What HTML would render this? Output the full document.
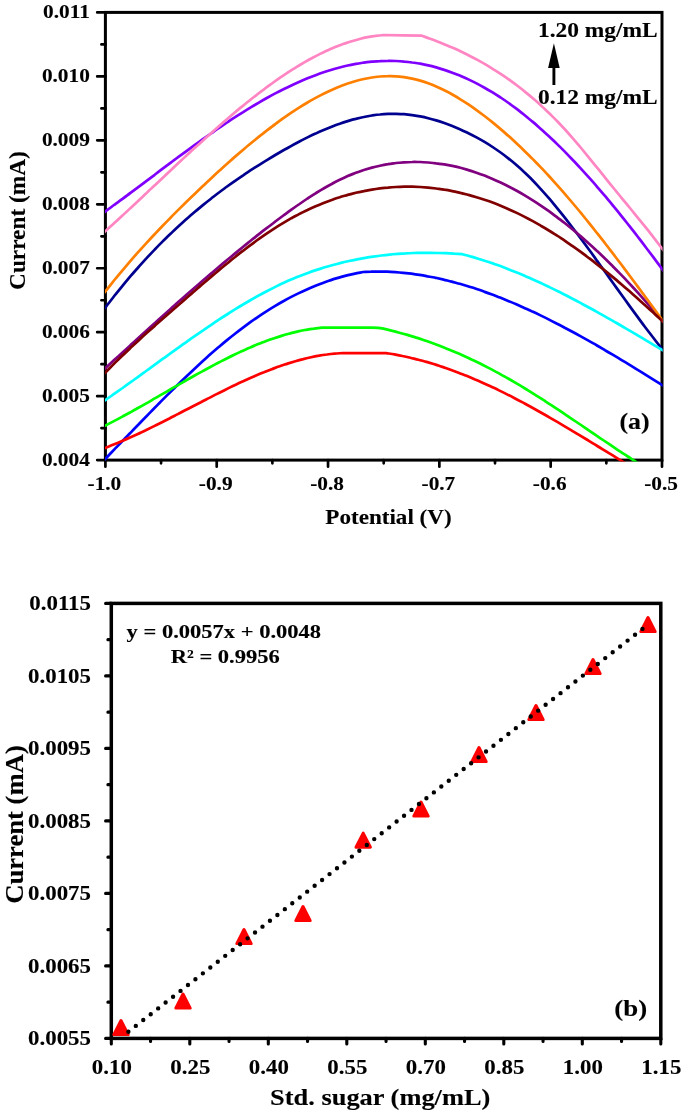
<!DOCTYPE html>
<html lang="en"><head><meta charset="utf-8"><title>Figure</title>
<style>html,body{margin:0;padding:0;background:#fff}body{width:685px;height:1116px;overflow:hidden}svg{display:block}text{font-family:'Liberation Serif',serif;font-weight:bold;fill:#000;stroke:#000;stroke-width:0.12px}</style>
</head><body>
<svg width="685" height="1116" viewBox="0 0 685 1116">
<rect width="685" height="1116" fill="#fff"/>
<g id="chart-a">
<rect x="105.4" y="12.4" width="556.6" height="447.7" fill="none" stroke="#000" stroke-width="3.0"/>
<path d="M105.4 460.10 H97.2 M105.4 428.12 H101.4 M105.4 396.15 H97.2 M105.4 364.18 H101.4 M105.4 332.20 H97.2 M105.4 300.23 H101.4 M105.4 268.25 H97.2 M105.4 236.28 H101.4 M105.4 204.30 H97.2 M105.4 172.33 H101.4 M105.4 140.35 H97.2 M105.4 108.38 H101.4 M105.4 76.40 H97.2 M105.4 44.42 H101.4 M105.4 12.45 H97.2 M105.40 460.1 V466.7 M161.06 460.1 V463.3 M216.72 460.1 V466.7 M272.38 460.1 V463.3 M328.04 460.1 V466.7 M383.70 460.1 V463.3 M439.36 460.1 V466.7 M495.02 460.1 V463.3 M550.68 460.1 V466.7 M606.34 460.1 V463.3 M662.00 460.1 V466.7" stroke="#000" stroke-width="2.7" stroke-linecap="round" fill="none"/>
<clipPath id="ca"><rect x="105.0" y="12.4" width="557.6" height="449.0"/></clipPath>
<g clip-path="url(#ca)" fill="none" stroke-width="2.7" stroke-linejoin="round">
<path d="M103.4 310.1 C103.9 309.4 104.6 308.6 106.4 306.2 C108.2 303.8 111.8 299.2 114.4 295.8 C117.1 292.4 119.8 289.1 122.5 285.8 C125.2 282.6 127.9 279.4 130.5 276.2 C133.2 273.1 135.9 270.0 138.6 267.0 C141.3 264.0 143.9 261.0 146.6 258.1 C149.3 255.2 152.0 252.4 154.7 249.6 C157.4 246.8 160.0 244.1 162.7 241.4 C165.4 238.8 168.1 236.1 170.8 233.6 C173.4 231.0 176.1 228.5 178.8 226.0 C181.5 223.6 184.2 221.1 186.8 218.8 C189.5 216.4 192.2 214.1 194.9 211.8 C197.6 209.5 200.3 207.3 202.9 205.1 C205.6 202.9 208.3 200.8 211.0 198.7 C213.7 196.6 216.3 194.5 219.0 192.5 C221.7 190.4 224.4 188.5 227.1 186.5 C229.8 184.6 232.4 182.7 235.1 180.8 C237.8 178.9 240.5 177.1 243.2 175.3 C245.8 173.4 248.5 171.7 251.2 169.9 C253.9 168.2 256.6 166.5 259.3 164.8 C261.9 163.1 264.6 161.4 267.3 159.8 C270.0 158.2 272.7 156.6 275.3 155.0 C278.0 153.4 280.7 151.8 283.4 150.3 C286.1 148.8 288.8 147.3 291.4 145.8 C294.1 144.3 296.8 142.9 299.5 141.5 C302.2 140.1 304.8 138.7 307.5 137.4 C310.2 136.1 312.9 134.8 315.6 133.6 C318.2 132.3 320.9 131.1 323.6 130.0 C326.3 128.9 329.0 127.8 331.7 126.7 C334.3 125.7 337.0 124.7 339.7 123.8 C342.4 122.8 345.1 121.9 347.7 121.1 C350.4 120.3 353.1 119.5 355.8 118.9 C358.5 118.2 361.2 117.5 363.8 117.0 C366.5 116.4 369.2 115.9 371.9 115.5 C374.6 115.1 377.2 114.7 379.9 114.5 C382.6 114.2 385.3 114.0 388.0 113.9 C390.7 113.8 393.3 113.8 396.0 113.8 C398.7 113.9 401.4 114.0 404.1 114.2 C406.7 114.4 409.4 114.7 412.1 115.1 C414.8 115.5 417.5 115.9 420.2 116.4 C422.8 116.9 425.5 117.5 428.2 118.2 C430.9 118.9 433.6 119.6 436.2 120.4 C438.9 121.2 441.6 122.1 444.3 123.0 C447.0 124.0 449.7 125.0 452.3 126.0 C455.0 127.1 457.7 128.3 460.4 129.4 C463.1 130.6 465.7 131.9 468.4 133.2 C471.1 134.5 473.8 135.9 476.5 137.4 C479.1 138.8 481.8 140.3 484.5 141.9 C487.2 143.5 489.9 145.2 492.6 147.0 C495.2 148.7 497.9 150.6 500.6 152.5 C503.3 154.4 506.0 156.5 508.6 158.6 C511.3 160.7 514.0 162.9 516.7 165.3 C519.4 167.6 522.1 170.0 524.7 172.6 C527.4 175.1 530.1 177.8 532.8 180.5 C535.5 183.3 538.1 186.2 540.8 189.1 C543.5 192.1 546.2 195.1 548.9 198.2 C551.6 201.3 554.2 204.6 556.9 207.8 C559.6 211.1 562.3 214.4 565.0 217.8 C567.6 221.2 570.3 224.7 573.0 228.2 C575.7 231.7 578.4 235.3 581.1 238.9 C583.7 242.5 586.4 246.1 589.1 249.8 C591.8 253.4 594.5 257.1 597.1 260.9 C599.8 264.6 602.5 268.3 605.2 272.0 C607.9 275.8 610.5 279.5 613.2 283.3 C615.9 287.0 618.6 290.8 621.3 294.5 C624.0 298.2 626.6 301.9 629.3 305.6 C632.0 309.3 634.7 313.0 637.4 316.6 C640.0 320.3 642.7 323.9 645.4 327.5 C648.1 331.0 650.8 334.5 653.5 338.0 C656.1 341.5 658.8 344.8 661.5 348.2 C664.2 351.6 668.2 356.7 669.5 358.4" stroke="#000090"/>
<path d="M103.4 369.9 C103.9 369.5 104.6 368.9 106.4 367.2 C108.2 365.5 111.8 362.3 114.4 359.8 C117.1 357.4 119.8 354.9 122.5 352.5 C125.2 350.0 127.9 347.6 130.5 345.1 C133.2 342.7 135.9 340.2 138.6 337.8 C141.3 335.3 143.9 332.9 146.6 330.5 C149.3 328.1 152.0 325.6 154.7 323.2 C157.4 320.8 160.0 318.4 162.7 316.0 C165.4 313.6 168.1 311.2 170.8 308.8 C173.4 306.4 176.1 304.0 178.8 301.6 C181.5 299.3 184.2 296.9 186.8 294.5 C189.5 292.2 192.2 289.8 194.9 287.5 C197.6 285.2 200.3 282.8 202.9 280.5 C205.6 278.2 208.3 275.9 211.0 273.6 C213.7 271.3 216.3 269.0 219.0 266.8 C221.7 264.5 224.4 262.3 227.1 260.0 C229.8 257.8 232.4 255.6 235.1 253.4 C237.8 251.2 240.5 249.0 243.2 246.8 C245.8 244.6 248.5 242.5 251.2 240.3 C253.9 238.2 256.6 236.0 259.3 233.9 C261.9 231.8 264.6 229.7 267.3 227.7 C270.0 225.6 272.7 223.6 275.3 221.5 C278.0 219.5 280.7 217.5 283.4 215.5 C286.1 213.5 288.8 211.6 291.4 209.6 C294.1 207.7 296.8 205.8 299.5 204.0 C302.2 202.1 304.8 200.3 307.5 198.5 C310.2 196.8 312.9 195.0 315.6 193.3 C318.2 191.7 320.9 190.0 323.6 188.5 C326.3 186.9 329.0 185.4 331.7 184.0 C334.3 182.5 337.0 181.1 339.7 179.8 C342.4 178.5 345.1 177.3 347.7 176.1 C350.4 174.9 353.1 173.9 355.8 172.8 C358.5 171.8 361.2 170.9 363.8 170.0 C366.5 169.2 369.2 168.4 371.9 167.6 C374.6 166.9 377.2 166.3 379.9 165.7 C382.6 165.1 385.3 164.6 388.0 164.2 C390.7 163.7 393.3 163.4 396.0 163.0 C398.7 162.7 401.4 162.5 404.1 162.3 C406.7 162.1 409.4 162.0 412.1 162.0 C414.8 161.9 417.5 162.0 420.2 162.0 C422.8 162.1 425.5 162.3 428.2 162.5 C430.9 162.7 433.6 162.9 436.2 163.3 C438.9 163.6 441.6 164.0 444.3 164.4 C447.0 164.9 449.7 165.4 452.3 165.9 C455.0 166.5 457.7 167.1 460.4 167.8 C463.1 168.5 465.7 169.3 468.4 170.1 C471.1 170.9 473.8 171.8 476.5 172.7 C479.1 173.6 481.8 174.6 484.5 175.6 C487.2 176.7 489.9 177.8 492.6 178.9 C495.2 180.1 497.9 181.3 500.6 182.5 C503.3 183.8 506.0 185.1 508.6 186.5 C511.3 187.9 514.0 189.3 516.7 190.8 C519.4 192.3 522.1 193.8 524.7 195.4 C527.4 197.0 530.1 198.7 532.8 200.4 C535.5 202.1 538.1 203.8 540.8 205.6 C543.5 207.4 546.2 209.3 548.9 211.2 C551.6 213.1 554.2 215.1 556.9 217.1 C559.6 219.1 562.3 221.2 565.0 223.3 C567.6 225.4 570.3 227.6 573.0 229.8 C575.7 232.0 578.4 234.3 581.1 236.6 C583.7 238.9 586.4 241.3 589.1 243.7 C591.8 246.1 594.5 248.5 597.1 251.1 C599.8 253.6 602.5 256.1 605.2 258.7 C607.9 261.3 610.5 264.0 613.2 266.7 C615.9 269.4 618.6 272.1 621.3 274.9 C624.0 277.7 626.6 280.5 629.3 283.4 C632.0 286.3 634.7 289.2 637.4 292.1 C640.0 295.1 642.7 298.1 645.4 301.2 C648.1 304.2 650.8 307.3 653.5 310.5 C656.1 313.6 658.8 316.8 661.5 320.0 C664.2 323.2 668.2 327.9 669.5 329.5" stroke="#800080"/>
<path d="M103.4 293.8 C103.9 293.2 104.6 292.4 106.4 290.1 C108.2 287.8 111.8 283.3 114.4 280.0 C117.1 276.7 119.8 273.5 122.5 270.3 C125.2 267.1 127.9 263.9 130.5 260.8 C133.2 257.7 135.9 254.7 138.6 251.7 C141.3 248.7 143.9 245.7 146.6 242.8 C149.3 239.9 152.0 237.0 154.7 234.2 C157.4 231.3 160.0 228.5 162.7 225.7 C165.4 223.0 168.1 220.2 170.8 217.5 C173.4 214.8 176.1 212.1 178.8 209.4 C181.5 206.7 184.2 204.1 186.8 201.5 C189.5 198.8 192.2 196.2 194.9 193.7 C197.6 191.1 200.3 188.5 202.9 186.0 C205.6 183.4 208.3 180.9 211.0 178.4 C213.7 175.9 216.3 173.4 219.0 171.0 C221.7 168.5 224.4 166.1 227.1 163.7 C229.8 161.3 232.4 158.9 235.1 156.6 C237.8 154.3 240.5 152.0 243.2 149.7 C245.8 147.4 248.5 145.2 251.2 143.0 C253.9 140.8 256.6 138.6 259.3 136.4 C261.9 134.3 264.6 132.2 267.3 130.1 C270.0 128.1 272.7 126.1 275.3 124.1 C278.0 122.1 280.7 120.1 283.4 118.2 C286.1 116.4 288.8 114.5 291.4 112.7 C294.1 110.9 296.8 109.1 299.5 107.4 C302.2 105.7 304.8 104.1 307.5 102.5 C310.2 100.9 312.9 99.4 315.6 97.9 C318.2 96.5 320.9 95.0 323.6 93.7 C326.3 92.4 329.0 91.1 331.7 89.9 C334.3 88.7 337.0 87.5 339.7 86.5 C342.4 85.4 345.1 84.4 347.7 83.5 C350.4 82.6 353.1 81.8 355.8 81.0 C358.5 80.3 361.2 79.6 363.8 79.0 C366.5 78.4 369.2 77.9 371.9 77.5 C374.6 77.1 377.2 76.8 379.9 76.5 C382.6 76.3 385.3 76.2 388.0 76.2 C390.7 76.1 393.3 76.2 396.0 76.3 C398.7 76.5 401.4 76.8 404.1 77.1 C406.7 77.5 409.4 78.0 412.1 78.6 C414.8 79.2 417.5 79.9 420.2 80.6 C422.8 81.4 425.5 82.3 428.2 83.3 C430.9 84.3 433.6 85.3 436.2 86.5 C438.9 87.7 441.6 88.9 444.3 90.3 C447.0 91.6 449.7 93.0 452.3 94.5 C455.0 96.0 457.7 97.6 460.4 99.3 C463.1 100.9 465.7 102.6 468.4 104.4 C471.1 106.2 473.8 108.1 476.5 110.1 C479.1 112.0 481.8 114.0 484.5 116.0 C487.2 118.1 489.9 120.2 492.6 122.4 C495.2 124.6 497.9 126.8 500.6 129.1 C503.3 131.4 506.0 133.7 508.6 136.1 C511.3 138.5 514.0 141.0 516.7 143.5 C519.4 146.0 522.1 148.5 524.7 151.2 C527.4 153.8 530.1 156.4 532.8 159.1 C535.5 161.9 538.1 164.6 540.8 167.4 C543.5 170.2 546.2 173.1 548.9 176.0 C551.6 178.9 554.2 181.9 556.9 184.9 C559.6 187.9 562.3 191.0 565.0 194.1 C567.6 197.2 570.3 200.3 573.0 203.5 C575.7 206.7 578.4 209.9 581.1 213.2 C583.7 216.4 586.4 219.7 589.1 223.1 C591.8 226.4 594.5 229.8 597.1 233.2 C599.8 236.6 602.5 240.0 605.2 243.5 C607.9 246.9 610.5 250.4 613.2 253.9 C615.9 257.4 618.6 261.0 621.3 264.5 C624.0 268.1 626.6 271.6 629.3 275.2 C632.0 278.8 634.7 282.4 637.4 286.1 C640.0 289.7 642.7 293.3 645.4 297.0 C648.1 300.6 650.8 304.3 653.5 308.0 C656.1 311.6 658.8 315.3 661.5 319.0 C664.2 322.7 668.2 328.2 669.5 330.0" stroke="#ff8000"/>
<path d="M103.4 374.5 C103.9 374.0 104.6 373.3 106.4 371.5 C108.2 369.6 111.8 366.1 114.4 363.4 C117.1 360.7 119.8 358.1 122.5 355.5 C125.2 353.0 127.9 350.4 130.5 347.9 C133.2 345.4 135.9 342.9 138.6 340.4 C141.3 337.9 143.9 335.5 146.6 333.1 C149.3 330.7 152.0 328.3 154.7 325.9 C157.4 323.5 160.0 321.1 162.7 318.8 C165.4 316.4 168.1 314.1 170.8 311.7 C173.4 309.4 176.1 307.0 178.8 304.7 C181.5 302.4 184.2 300.0 186.8 297.7 C189.5 295.4 192.2 293.1 194.9 290.7 C197.6 288.4 200.3 286.1 202.9 283.8 C205.6 281.5 208.3 279.2 211.0 276.9 C213.7 274.6 216.3 272.4 219.0 270.1 C221.7 267.9 224.4 265.7 227.1 263.5 C229.8 261.3 232.4 259.1 235.1 257.0 C237.8 254.8 240.5 252.7 243.2 250.7 C245.8 248.6 248.5 246.5 251.2 244.6 C253.9 242.6 256.6 240.6 259.3 238.7 C261.9 236.8 264.6 234.9 267.3 233.1 C270.0 231.3 272.7 229.5 275.3 227.8 C278.0 226.1 280.7 224.5 283.4 222.9 C286.1 221.3 288.8 219.7 291.4 218.2 C294.1 216.8 296.8 215.3 299.5 213.9 C302.2 212.6 304.8 211.2 307.5 210.0 C310.2 208.7 312.9 207.5 315.6 206.3 C318.2 205.2 320.9 204.1 323.6 203.0 C326.3 201.9 329.0 200.9 331.7 200.0 C334.3 199.0 337.0 198.1 339.7 197.3 C342.4 196.4 345.1 195.7 347.7 194.9 C350.4 194.2 353.1 193.5 355.8 192.8 C358.5 192.2 361.2 191.6 363.8 191.1 C366.5 190.5 369.2 190.0 371.9 189.6 C374.6 189.2 377.2 188.8 379.9 188.4 C382.6 188.1 385.3 187.8 388.0 187.6 C390.7 187.3 393.3 187.1 396.0 187.0 C398.7 186.9 401.4 186.8 404.1 186.7 C406.7 186.7 409.4 186.7 412.1 186.7 C414.8 186.8 417.5 186.9 420.2 187.0 C422.8 187.2 425.5 187.4 428.2 187.6 C430.9 187.9 433.6 188.2 436.2 188.5 C438.9 188.9 441.6 189.2 444.3 189.7 C447.0 190.1 449.7 190.6 452.3 191.1 C455.0 191.7 457.7 192.2 460.4 192.9 C463.1 193.5 465.7 194.2 468.4 194.9 C471.1 195.6 473.8 196.4 476.5 197.2 C479.1 198.0 481.8 198.9 484.5 199.8 C487.2 200.7 489.9 201.6 492.6 202.6 C495.2 203.6 497.9 204.7 500.6 205.8 C503.3 206.9 506.0 208.0 508.6 209.2 C511.3 210.4 514.0 211.6 516.7 212.9 C519.4 214.2 522.1 215.5 524.7 216.9 C527.4 218.3 530.1 219.7 532.8 221.1 C535.5 222.6 538.1 224.1 540.8 225.7 C543.5 227.2 546.2 228.8 548.9 230.5 C551.6 232.1 554.2 233.8 556.9 235.5 C559.6 237.3 562.3 239.0 565.0 240.8 C567.6 242.7 570.3 244.5 573.0 246.4 C575.7 248.3 578.4 250.2 581.1 252.2 C583.7 254.1 586.4 256.1 589.1 258.2 C591.8 260.2 594.5 262.3 597.1 264.4 C599.8 266.5 602.5 268.6 605.2 270.8 C607.9 273.0 610.5 275.2 613.2 277.4 C615.9 279.6 618.6 281.9 621.3 284.2 C624.0 286.5 626.6 288.8 629.3 291.1 C632.0 293.5 634.7 295.8 637.4 298.2 C640.0 300.6 642.7 303.0 645.4 305.5 C648.1 307.9 650.8 310.4 653.5 312.8 C656.1 315.3 658.8 317.8 661.5 320.3 C664.2 322.8 668.2 326.6 669.5 327.8" stroke="#800000"/>
<path d="M103.4 460.8 C103.9 460.3 104.6 459.6 106.4 457.7 C108.2 455.8 111.7 452.2 114.4 449.4 C117.1 446.6 119.8 443.9 122.4 441.1 C125.1 438.3 127.8 435.5 130.5 432.8 C133.1 430.0 135.8 427.2 138.5 424.5 C141.1 421.7 143.8 418.9 146.5 416.2 C149.2 413.5 151.8 410.7 154.5 408.0 C157.2 405.3 159.9 402.6 162.5 399.9 C165.2 397.2 167.9 394.5 170.6 391.9 C173.2 389.2 175.9 386.6 178.6 384.0 C181.2 381.4 183.9 378.8 186.6 376.3 C189.3 373.7 191.9 371.2 194.6 368.7 C197.3 366.2 200.0 363.7 202.6 361.3 C205.3 358.9 208.0 356.5 210.6 354.1 C213.3 351.8 216.0 349.4 218.7 347.1 C221.3 344.9 224.0 342.6 226.7 340.4 C229.4 338.2 232.0 336.1 234.7 334.0 C237.4 331.8 240.0 329.8 242.7 327.8 C245.4 325.8 248.1 323.8 250.7 321.9 C253.4 320.0 256.1 318.1 258.8 316.3 C261.4 314.5 264.1 312.8 266.8 311.1 C269.4 309.4 272.1 307.7 274.8 306.1 C277.5 304.5 280.1 303.0 282.8 301.5 C285.5 300.0 288.2 298.5 290.8 297.1 C293.5 295.7 296.2 294.4 298.9 293.1 C301.5 291.8 304.2 290.6 306.9 289.4 C309.5 288.2 312.2 287.1 314.9 286.0 C317.6 284.9 320.2 283.9 322.9 282.9 C325.6 281.9 328.3 281.0 330.9 280.1 C333.6 279.2 336.3 278.4 338.9 277.6 C341.6 276.8 344.3 276.1 347.0 275.4 C349.6 274.8 352.3 274.2 355.0 273.6 C357.7 273.0 361.7 272.3 363.0 272.0 C364.3 272.0 368.4 271.7 371.1 271.7 C373.8 271.6 376.4 271.6 379.1 271.6 C381.8 271.6 384.5 271.6 387.2 271.7 C389.9 271.8 392.6 272.0 395.3 272.2 C398.0 272.4 400.6 272.6 403.3 272.8 C406.0 273.1 408.7 273.4 411.4 273.7 C414.1 274.1 416.8 274.5 419.5 274.9 C422.2 275.3 424.9 275.8 427.5 276.3 C430.2 276.7 432.9 277.3 435.6 277.8 C438.3 278.4 441.0 279.0 443.7 279.6 C446.4 280.3 449.1 280.9 451.7 281.6 C454.4 282.3 457.1 283.1 459.8 283.8 C462.5 284.6 465.2 285.4 467.9 286.2 C470.6 287.1 473.3 287.9 475.9 288.8 C478.6 289.7 481.3 290.6 484.0 291.6 C486.7 292.5 489.4 293.5 492.1 294.5 C494.8 295.5 497.5 296.6 500.1 297.6 C502.8 298.7 505.5 299.8 508.2 300.9 C510.9 302.0 513.6 303.1 516.3 304.3 C519.0 305.5 521.7 306.7 524.4 307.9 C527.0 309.1 529.7 310.3 532.4 311.6 C535.1 312.8 537.8 314.1 540.5 315.4 C543.2 316.7 545.9 318.0 548.6 319.4 C551.2 320.7 553.9 322.1 556.6 323.5 C559.3 324.8 562.0 326.2 564.7 327.7 C567.4 329.1 570.1 330.5 572.8 332.0 C575.4 333.4 578.1 334.9 580.8 336.4 C583.5 337.9 586.2 339.4 588.9 340.9 C591.6 342.4 594.3 344.0 597.0 345.5 C599.6 347.0 602.3 348.6 605.0 350.2 C607.7 351.7 610.4 353.3 613.1 354.9 C615.8 356.5 618.5 358.1 621.2 359.8 C623.9 361.4 626.5 363.0 629.2 364.6 C631.9 366.3 634.6 367.9 637.3 369.6 C640.0 371.2 642.7 372.9 645.4 374.6 C648.1 376.3 650.7 377.9 653.4 379.6 C656.1 381.3 658.8 383.0 661.5 384.7 C664.2 386.4 668.2 388.9 669.5 389.7" stroke="#0000ff"/>
<path d="M103.4 401.5 C103.9 401.1 104.6 400.6 106.4 399.4 C108.2 398.1 111.8 395.6 114.5 393.7 C117.2 391.8 119.9 389.9 122.6 388.0 C125.3 386.0 128.0 384.1 130.7 382.2 C133.4 380.2 136.1 378.3 138.8 376.3 C141.5 374.4 144.1 372.4 146.8 370.5 C149.5 368.5 152.2 366.6 154.9 364.6 C157.6 362.6 160.3 360.7 163.0 358.7 C165.7 356.8 168.4 354.8 171.1 352.9 C173.8 350.9 176.5 349.0 179.2 347.1 C181.9 345.2 184.6 343.2 187.3 341.3 C190.0 339.4 192.7 337.5 195.4 335.7 C198.1 333.8 200.8 331.9 203.5 330.1 C206.2 328.2 208.9 326.4 211.6 324.6 C214.2 322.8 216.9 321.0 219.6 319.2 C222.3 317.4 225.0 315.7 227.7 314.0 C230.4 312.3 233.1 310.6 235.8 308.9 C238.5 307.2 241.2 305.6 243.9 304.0 C246.6 302.4 249.3 300.8 252.0 299.3 C254.7 297.7 257.4 296.2 260.1 294.8 C262.8 293.3 265.5 291.9 268.2 290.5 C270.9 289.1 273.6 287.7 276.3 286.4 C279.0 285.1 281.7 283.8 284.4 282.6 C287.0 281.4 289.7 280.2 292.4 279.1 C295.1 277.9 297.8 276.8 300.5 275.8 C303.2 274.7 305.9 273.7 308.6 272.7 C311.3 271.7 314.0 270.8 316.7 269.9 C319.4 269.0 322.1 268.2 324.8 267.3 C327.5 266.5 330.2 265.7 332.9 265.0 C335.6 264.3 338.3 263.6 341.0 262.9 C343.7 262.2 346.4 261.6 349.1 261.0 C351.8 260.4 354.5 259.8 357.1 259.3 C359.8 258.8 362.5 258.3 365.2 257.8 C367.9 257.4 370.6 257.0 373.3 256.6 C376.0 256.2 378.7 255.8 381.4 255.5 C384.1 255.2 386.8 254.9 389.5 254.6 C392.2 254.3 394.9 254.1 397.6 253.9 C400.3 253.7 403.0 253.5 405.7 253.4 C408.4 253.2 411.1 253.1 413.8 253.0 C416.5 252.9 419.2 252.9 421.9 252.8 C424.6 252.8 427.2 252.8 429.9 252.8 C432.6 252.8 435.3 252.9 438.0 253.0 C440.7 253.0 443.4 253.1 446.1 253.2 C448.8 253.3 451.5 253.5 454.2 253.7 C456.9 253.8 461.0 254.1 462.3 254.2 C463.6 254.6 467.6 255.6 470.3 256.4 C472.9 257.1 475.6 257.9 478.2 258.7 C480.9 259.5 483.5 260.4 486.2 261.2 C488.9 262.1 491.5 263.0 494.2 263.9 C496.8 264.9 499.5 265.8 502.1 266.8 C504.8 267.8 507.5 268.9 510.1 269.9 C512.8 270.9 515.4 272.0 518.1 273.1 C520.7 274.2 523.4 275.3 526.0 276.5 C528.7 277.6 531.4 278.8 534.0 280.0 C536.7 281.2 539.3 282.4 542.0 283.6 C544.6 284.9 547.3 286.1 549.9 287.4 C552.6 288.7 555.3 290.0 557.9 291.3 C560.6 292.6 563.2 294.0 565.9 295.3 C568.5 296.7 571.2 298.1 573.9 299.5 C576.5 300.8 579.2 302.3 581.8 303.7 C584.5 305.1 587.1 306.5 589.8 308.0 C592.4 309.4 595.1 310.9 597.8 312.4 C600.4 313.9 603.1 315.3 605.7 316.8 C608.4 318.3 611.0 319.9 613.7 321.4 C616.3 322.9 619.0 324.4 621.7 326.0 C624.3 327.5 627.0 329.1 629.6 330.6 C632.3 332.2 634.9 333.8 637.6 335.3 C640.3 336.9 642.9 338.5 645.6 340.1 C648.2 341.6 650.9 343.2 653.5 344.8 C656.2 346.4 658.8 348.0 661.5 349.6 C664.2 351.2 668.2 353.6 669.5 354.4" stroke="#00ffff"/>
<path d="M103.4 426.5 C103.9 426.3 104.6 425.9 106.4 425.0 C108.2 424.0 111.7 422.3 114.4 420.9 C117.1 419.5 119.7 418.1 122.4 416.6 C125.0 415.2 127.7 413.7 130.4 412.3 C133.0 410.8 135.7 409.3 138.4 407.8 C141.0 406.3 143.7 404.8 146.3 403.3 C149.0 401.8 151.7 400.2 154.3 398.7 C157.0 397.2 159.7 395.6 162.3 394.1 C165.0 392.6 167.6 391.0 170.3 389.5 C173.0 388.0 175.6 386.4 178.3 384.9 C181.0 383.4 183.6 381.8 186.3 380.3 C189.0 378.8 191.6 377.3 194.3 375.8 C196.9 374.3 199.6 372.8 202.3 371.4 C204.9 369.9 207.6 368.5 210.3 367.0 C212.9 365.6 215.6 364.2 218.2 362.8 C220.9 361.4 223.6 360.1 226.2 358.7 C228.9 357.4 231.6 356.1 234.2 354.8 C236.9 353.5 239.5 352.3 242.2 351.0 C244.9 349.8 247.5 348.6 250.2 347.5 C252.9 346.3 255.5 345.2 258.2 344.1 C260.9 343.1 263.5 342.0 266.2 341.0 C268.8 340.0 271.5 339.1 274.2 338.2 C276.8 337.3 279.5 336.4 282.2 335.6 C284.8 334.8 287.5 334.1 290.1 333.4 C292.8 332.6 295.5 332.0 298.1 331.4 C300.8 330.8 303.5 330.3 306.1 329.8 C308.8 329.3 311.4 328.9 314.1 328.6 C316.8 328.2 320.8 327.8 322.1 327.7 C330.4 327.7 361.6 327.5 371.8 327.7 C382.0 327.9 381.5 328.5 383.4 328.6 C384.7 328.9 388.7 329.9 391.4 330.6 C394.1 331.2 396.8 331.9 399.4 332.7 C402.1 333.4 404.8 334.1 407.4 334.9 C410.1 335.7 412.8 336.5 415.5 337.4 C418.1 338.2 420.8 339.1 423.5 340.0 C426.1 340.9 428.8 341.9 431.5 342.8 C434.1 343.8 436.8 344.8 439.5 345.8 C442.2 346.8 444.8 347.9 447.5 349.0 C450.2 350.0 452.8 351.1 455.5 352.3 C458.2 353.4 460.9 354.6 463.5 355.8 C466.2 357.0 468.9 358.2 471.5 359.5 C474.2 360.7 476.9 362.0 479.6 363.3 C482.2 364.6 484.9 366.0 487.6 367.4 C490.2 368.7 492.9 370.1 495.6 371.6 C498.3 373.0 500.9 374.5 503.6 376.0 C506.3 377.4 508.9 379.0 511.6 380.5 C514.3 382.1 516.9 383.6 519.6 385.2 C522.3 386.8 525.0 388.5 527.6 390.1 C530.3 391.7 533.0 393.4 535.6 395.1 C538.3 396.8 541.0 398.5 543.7 400.2 C546.3 401.9 549.0 403.7 551.7 405.4 C554.3 407.2 557.0 409.0 559.7 410.7 C562.4 412.5 565.0 414.3 567.7 416.1 C570.4 417.9 573.0 419.7 575.7 421.5 C578.4 423.3 581.1 425.1 583.7 426.9 C586.4 428.7 589.1 430.6 591.7 432.4 C594.4 434.2 597.1 436.0 599.7 437.8 C602.4 439.6 605.1 441.4 607.8 443.2 C610.4 445.0 613.1 446.8 615.8 448.6 C618.4 450.4 621.1 452.1 623.8 453.9 C626.5 455.6 629.1 457.4 631.8 459.1 C634.5 460.8 638.5 463.5 639.8 464.3" stroke="#00ff00"/>
<path d="M103.4 448.6 C103.9 448.4 104.6 448.1 106.4 447.4 C108.2 446.7 111.6 445.4 114.3 444.3 C116.9 443.3 119.5 442.2 122.1 441.0 C124.8 439.9 127.4 438.8 130.0 437.6 C132.6 436.4 135.3 435.2 137.9 434.0 C140.5 432.8 143.1 431.5 145.8 430.3 C148.4 429.0 151.0 427.7 153.6 426.4 C156.3 425.1 158.9 423.8 161.5 422.5 C164.1 421.2 166.8 419.8 169.4 418.5 C172.0 417.1 174.6 415.8 177.3 414.4 C179.9 413.1 182.5 411.7 185.1 410.3 C187.8 409.0 190.4 407.6 193.0 406.2 C195.6 404.9 198.3 403.5 200.9 402.2 C203.5 400.8 206.1 399.5 208.8 398.1 C211.4 396.8 214.0 395.4 216.6 394.1 C219.3 392.8 221.9 391.5 224.5 390.2 C227.1 388.9 229.7 387.6 232.4 386.3 C235.0 385.1 237.6 383.8 240.2 382.6 C242.9 381.4 245.5 380.2 248.1 379.0 C250.7 377.8 253.4 376.7 256.0 375.5 C258.6 374.4 261.2 373.3 263.9 372.3 C266.5 371.2 269.1 370.2 271.7 369.2 C274.4 368.2 277.0 367.2 279.6 366.3 C282.2 365.3 284.9 364.5 287.5 363.6 C290.1 362.8 292.7 362.0 295.4 361.2 C298.0 360.4 300.6 359.7 303.2 359.1 C305.9 358.4 308.5 357.8 311.1 357.2 C313.7 356.6 316.4 356.1 319.0 355.7 C321.6 355.2 324.2 354.8 326.9 354.5 C329.5 354.1 332.1 353.8 334.7 353.6 C337.4 353.4 341.3 353.2 342.6 353.1 C349.9 353.1 379.1 353.1 386.4 353.1 C387.7 353.3 391.7 354.0 394.4 354.4 C397.1 354.9 399.8 355.4 402.4 356.0 C405.1 356.5 407.8 357.1 410.4 357.7 C413.1 358.4 415.8 359.0 418.4 359.7 C421.1 360.4 423.8 361.2 426.5 361.9 C429.1 362.7 431.8 363.5 434.5 364.3 C437.1 365.2 439.8 366.0 442.5 366.9 C445.1 367.8 447.8 368.8 450.5 369.7 C453.2 370.7 455.8 371.7 458.5 372.7 C461.2 373.7 463.8 374.8 466.5 375.8 C469.2 376.9 471.8 378.0 474.5 379.2 C477.2 380.3 479.9 381.5 482.5 382.7 C485.2 383.9 487.9 385.1 490.5 386.3 C493.2 387.6 495.9 388.8 498.5 390.1 C501.2 391.4 503.9 392.7 506.6 394.1 C509.2 395.4 511.9 396.8 514.6 398.2 C517.2 399.6 519.9 401.0 522.6 402.4 C525.2 403.8 527.9 405.3 530.6 406.7 C533.3 408.2 535.9 409.7 538.6 411.2 C541.3 412.7 543.9 414.2 546.6 415.7 C549.3 417.3 551.9 418.8 554.6 420.4 C557.3 421.9 560.0 423.5 562.6 425.1 C565.3 426.7 568.0 428.3 570.6 429.8 C573.3 431.4 576.0 433.1 578.6 434.7 C581.3 436.3 584.0 437.9 586.7 439.5 C589.3 441.1 592.0 442.8 594.7 444.4 C597.3 446.0 600.0 447.7 602.7 449.3 C605.3 450.9 608.0 452.6 610.7 454.2 C613.4 455.8 616.0 457.5 618.7 459.1 C621.4 460.7 625.4 463.2 626.7 464.0" stroke="#ff0000"/>
<path d="M103.4 212.9 C103.9 212.5 104.6 212.0 106.4 210.7 C108.2 209.4 111.8 206.8 114.4 204.8 C117.1 202.9 119.8 200.9 122.5 198.9 C125.2 196.9 127.9 194.9 130.5 192.9 C133.2 190.9 135.9 188.9 138.6 186.9 C141.3 184.9 143.9 182.8 146.6 180.8 C149.3 178.8 152.0 176.8 154.7 174.8 C157.4 172.7 160.0 170.7 162.7 168.7 C165.4 166.7 168.1 164.7 170.8 162.7 C173.4 160.7 176.1 158.7 178.8 156.7 C181.5 154.7 184.2 152.7 186.8 150.8 C189.5 148.8 192.2 146.9 194.9 144.9 C197.6 143.0 200.3 141.0 202.9 139.1 C205.6 137.2 208.3 135.3 211.0 133.5 C213.7 131.6 216.3 129.7 219.0 127.9 C221.7 126.1 224.4 124.3 227.1 122.5 C229.8 120.7 232.4 118.9 235.1 117.2 C237.8 115.4 240.5 113.7 243.2 112.1 C245.8 110.4 248.5 108.7 251.2 107.1 C253.9 105.5 256.6 103.9 259.3 102.3 C261.9 100.8 264.6 99.3 267.3 97.8 C270.0 96.3 272.7 94.8 275.3 93.4 C278.0 92.0 280.7 90.6 283.4 89.3 C286.1 87.9 288.8 86.6 291.4 85.4 C294.1 84.1 296.8 82.9 299.5 81.7 C302.2 80.5 304.8 79.4 307.5 78.3 C310.2 77.2 312.9 76.2 315.6 75.2 C318.2 74.2 320.9 73.2 323.6 72.3 C326.3 71.4 329.0 70.5 331.7 69.7 C334.3 68.9 337.0 68.2 339.7 67.5 C342.4 66.8 345.1 66.1 347.7 65.5 C350.4 64.9 353.1 64.4 355.8 63.9 C358.5 63.4 361.2 63.0 363.8 62.6 C366.5 62.2 369.2 61.9 371.9 61.6 C374.6 61.4 377.2 61.2 379.9 61.1 C382.6 60.9 385.3 60.9 388.0 60.9 C390.7 60.8 393.3 60.9 396.0 61.0 C398.7 61.1 401.4 61.3 404.1 61.6 C406.7 61.8 409.4 62.1 412.1 62.5 C414.8 62.8 417.5 63.3 420.2 63.7 C422.8 64.2 425.5 64.8 428.2 65.4 C430.9 66.0 433.6 66.7 436.2 67.4 C438.9 68.2 441.6 69.0 444.3 69.9 C447.0 70.7 449.7 71.7 452.3 72.7 C455.0 73.7 457.7 74.7 460.4 75.8 C463.1 77.0 465.7 78.1 468.4 79.4 C471.1 80.7 473.8 82.0 476.5 83.4 C479.1 84.7 481.8 86.2 484.5 87.7 C487.2 89.2 489.9 90.8 492.6 92.4 C495.2 94.1 497.9 95.8 500.6 97.5 C503.3 99.3 506.0 101.1 508.6 103.0 C511.3 104.9 514.0 106.9 516.7 108.9 C519.4 111.0 522.1 113.1 524.7 115.2 C527.4 117.4 530.1 119.6 532.8 121.9 C535.5 124.1 538.1 126.5 540.8 128.9 C543.5 131.2 546.2 133.7 548.9 136.2 C551.6 138.7 554.2 141.3 556.9 143.9 C559.6 146.5 562.3 149.2 565.0 151.9 C567.6 154.6 570.3 157.4 573.0 160.2 C575.7 163.0 578.4 165.9 581.1 168.8 C583.7 171.7 586.4 174.7 589.1 177.7 C591.8 180.7 594.5 183.7 597.1 186.8 C599.8 189.9 602.5 193.0 605.2 196.2 C607.9 199.4 610.5 202.6 613.2 205.9 C615.9 209.1 618.6 212.4 621.3 215.8 C624.0 219.1 626.6 222.5 629.3 225.9 C632.0 229.3 634.7 232.7 637.4 236.2 C640.0 239.6 642.7 243.1 645.4 246.7 C648.1 250.2 650.8 253.8 653.5 257.4 C656.1 261.0 658.8 264.6 661.5 268.2 C664.2 271.8 668.2 277.2 669.5 279.0" stroke="#8000ff"/>
<path d="M103.4 233.0 C103.9 232.6 104.6 231.9 106.4 230.3 C108.2 228.6 111.7 225.5 114.3 223.1 C117.0 220.7 119.6 218.2 122.2 215.8 C124.9 213.4 127.5 210.9 130.1 208.4 C132.8 206.0 135.4 203.5 138.1 201.0 C140.7 198.6 143.3 196.1 146.0 193.6 C148.6 191.1 151.2 188.6 153.9 186.1 C156.5 183.6 159.2 181.2 161.8 178.7 C164.4 176.2 167.1 173.7 169.7 171.2 C172.4 168.7 175.0 166.3 177.6 163.8 C180.3 161.3 182.9 158.9 185.5 156.4 C188.2 154.0 190.8 151.5 193.5 149.1 C196.1 146.7 198.7 144.3 201.4 141.9 C204.0 139.5 206.6 137.1 209.3 134.7 C211.9 132.4 214.6 130.0 217.2 127.7 C219.8 125.4 222.5 123.1 225.1 120.8 C227.8 118.5 230.4 116.3 233.0 114.0 C235.7 111.8 238.3 109.6 240.9 107.4 C243.6 105.3 246.2 103.1 248.9 101.0 C251.5 98.9 254.1 96.8 256.8 94.8 C259.4 92.7 262.0 90.7 264.7 88.8 C267.3 86.8 270.0 84.9 272.6 83.0 C275.2 81.1 277.9 79.2 280.5 77.4 C283.2 75.6 285.8 73.9 288.4 72.2 C291.1 70.4 293.7 68.8 296.3 67.1 C299.0 65.5 301.6 64.0 304.3 62.4 C306.9 60.9 309.5 59.4 312.2 58.0 C314.8 56.6 317.4 55.2 320.1 53.9 C322.7 52.6 325.4 51.4 328.0 50.2 C330.6 49.0 333.3 47.9 335.9 46.8 C338.6 45.8 341.2 44.8 343.8 43.8 C346.5 42.9 349.1 42.0 351.7 41.2 C354.4 40.4 357.0 39.7 359.7 39.0 C362.3 38.3 364.9 37.7 367.6 37.2 C370.2 36.7 372.8 36.2 375.5 35.9 C378.1 35.5 382.1 35.1 383.4 35.0 C389.7 35.1 415.1 35.5 421.4 35.6 C422.7 36.1 426.7 37.5 429.4 38.5 C432.1 39.4 434.7 40.4 437.4 41.5 C440.1 42.5 442.7 43.6 445.4 44.7 C448.1 45.8 450.7 46.9 453.4 48.1 C456.1 49.3 458.7 50.5 461.4 51.8 C464.1 53.1 466.8 54.4 469.4 55.7 C472.1 57.1 474.8 58.5 477.4 59.9 C480.1 61.4 482.8 62.9 485.4 64.4 C488.1 66.0 490.8 67.6 493.4 69.3 C496.1 70.9 498.8 72.6 501.4 74.4 C504.1 76.2 506.8 78.0 509.4 79.9 C512.1 81.8 514.8 83.8 517.4 85.8 C520.1 87.8 522.8 89.9 525.4 92.1 C528.1 94.2 530.8 96.5 533.4 98.8 C536.1 101.1 538.8 103.4 541.5 105.9 C544.1 108.3 546.8 110.9 549.5 113.5 C552.1 116.1 554.8 118.7 557.5 121.5 C560.1 124.3 562.8 127.1 565.5 130.0 C568.1 133.0 570.8 136.0 573.5 139.1 C576.1 142.1 578.8 145.3 581.5 148.5 C584.1 151.7 586.8 155.0 589.5 158.3 C592.1 161.5 594.8 164.9 597.5 168.2 C600.1 171.5 602.8 174.8 605.5 178.1 C608.1 181.5 610.8 184.8 613.5 188.0 C616.1 191.3 618.8 194.5 621.5 197.8 C624.2 201.0 626.8 204.3 629.5 207.5 C632.2 210.7 634.8 214.0 637.5 217.3 C640.2 220.5 642.8 223.8 645.5 227.2 C648.2 230.5 650.8 233.9 653.5 237.3 C656.2 240.7 658.8 244.3 661.5 247.8 C664.2 251.3 668.2 256.5 669.5 258.3" stroke="#ff85c3"/>
</g>
<text transform="translate(89.8 465.7) scale(1.110 1)" font-size="19.20" text-anchor="end">0.004</text>
<text transform="translate(89.8 401.8) scale(1.110 1)" font-size="19.20" text-anchor="end">0.005</text>
<text transform="translate(89.8 337.8) scale(1.110 1)" font-size="19.20" text-anchor="end">0.006</text>
<text transform="translate(89.8 273.9) scale(1.110 1)" font-size="19.20" text-anchor="end">0.007</text>
<text transform="translate(89.8 209.9) scale(1.110 1)" font-size="19.20" text-anchor="end">0.008</text>
<text transform="translate(89.8 146.0) scale(1.110 1)" font-size="19.20" text-anchor="end">0.009</text>
<text transform="translate(89.8 82.0) scale(1.110 1)" font-size="19.20" text-anchor="end">0.010</text>
<text transform="translate(89.8 18.0) scale(1.110 1)" font-size="19.20" text-anchor="end">0.011</text>
<text transform="translate(104.4 490.0) scale(1.110 1)" font-size="19.20" text-anchor="middle">-1.0</text>
<text transform="translate(215.7 490.0) scale(1.110 1)" font-size="19.20" text-anchor="middle">-0.9</text>
<text transform="translate(327.0 490.0) scale(1.110 1)" font-size="19.20" text-anchor="middle">-0.8</text>
<text transform="translate(438.4 490.0) scale(1.110 1)" font-size="19.20" text-anchor="middle">-0.7</text>
<text transform="translate(549.7 490.0) scale(1.110 1)" font-size="19.20" text-anchor="middle">-0.6</text>
<text transform="translate(661.0 490.0) scale(1.110 1)" font-size="19.20" text-anchor="middle">-0.5</text>
<text transform="translate(388.5 524.0) scale(1.060 1)" font-size="21.80" text-anchor="middle">Potential (V)</text>
<text transform="translate(25.0 220.6) scale(1.030 1) rotate(-90)" font-size="23.30" text-anchor="middle">Current (mA)</text>
<text transform="translate(538.0 37.4) scale(1.105 1)" font-size="21.20" text-anchor="start">1.20 mg/mL</text>
<text transform="translate(538.0 103.6) scale(1.105 1)" font-size="21.20" text-anchor="start">0.12 mg/mL</text>
<path d="M553.9 85 V62" stroke="#000" stroke-width="2.9" fill="none"/>
<path d="M553.9 43.2 L559.7 67.9 H548.1 Z" fill="#000"/>
<text transform="translate(634.6 429.0) scale(1.080 1)" font-size="24.00" text-anchor="middle">(a)</text>
</g>
<g id="chart-b">
<rect x="111.3" y="603.4" width="549.5" height="435.0" fill="none" stroke="#000" stroke-width="3.5"/>
<path d="M111.3 1038.40 H105.6 M111.3 1002.15 H107.9 M111.3 965.90 H105.6 M111.3 929.65 H107.9 M111.3 893.40 H105.6 M111.3 857.15 H107.9 M111.3 820.90 H105.6 M111.3 784.65 H107.9 M111.3 748.40 H105.6 M111.3 712.15 H107.9 M111.3 675.90 H105.6 M111.3 639.65 H107.9 M111.3 603.40 H105.6 M111.30 1038.4 V1044.0 M150.55 1038.4 V1041.4 M189.80 1038.4 V1044.0 M229.05 1038.4 V1041.4 M268.30 1038.4 V1044.0 M307.55 1038.4 V1041.4 M346.80 1038.4 V1044.0 M386.05 1038.4 V1041.4 M425.30 1038.4 V1044.0 M464.55 1038.4 V1041.4 M503.80 1038.4 V1044.0 M543.05 1038.4 V1041.4 M582.30 1038.4 V1044.0 M621.55 1038.4 V1041.4 M660.80 1038.4 V1044.0" stroke="#000" stroke-width="3.1" stroke-linecap="round" fill="none"/>
<text transform="translate(91.0 1045.4) scale(1.090 1)" font-size="21.00" text-anchor="end">0.0055</text>
<text transform="translate(91.0 972.9) scale(1.090 1)" font-size="21.00" text-anchor="end">0.0065</text>
<text transform="translate(91.0 900.4) scale(1.090 1)" font-size="21.00" text-anchor="end">0.0075</text>
<text transform="translate(91.0 827.9) scale(1.090 1)" font-size="21.00" text-anchor="end">0.0085</text>
<text transform="translate(91.0 755.4) scale(1.090 1)" font-size="21.00" text-anchor="end">0.0095</text>
<text transform="translate(91.0 682.9) scale(1.090 1)" font-size="21.00" text-anchor="end">0.0105</text>
<text transform="translate(91.0 610.4) scale(1.090 1)" font-size="21.00" text-anchor="end">0.0115</text>
<text transform="translate(111.8 1073.5) scale(1.090 1)" font-size="21.00" text-anchor="middle">0.10</text>
<text transform="translate(190.3 1073.5) scale(1.090 1)" font-size="21.00" text-anchor="middle">0.25</text>
<text transform="translate(268.8 1073.5) scale(1.090 1)" font-size="21.00" text-anchor="middle">0.40</text>
<text transform="translate(347.3 1073.5) scale(1.090 1)" font-size="21.00" text-anchor="middle">0.55</text>
<text transform="translate(425.8 1073.5) scale(1.090 1)" font-size="21.00" text-anchor="middle">0.70</text>
<text transform="translate(504.3 1073.5) scale(1.090 1)" font-size="21.00" text-anchor="middle">0.85</text>
<text transform="translate(582.8 1073.5) scale(1.090 1)" font-size="21.00" text-anchor="middle">1.00</text>
<text transform="translate(661.3 1073.5) scale(1.090 1)" font-size="21.00" text-anchor="middle">1.15</text>
<text transform="translate(380.2 1104.5) scale(1.100 1)" font-size="24.00" text-anchor="middle">Std. sugar (mg/mL)</text>
<text transform="translate(22.9 824.5) scale(0.960 1) rotate(-90)" font-size="26.65" text-anchor="middle">Current (mA)</text>
<text transform="translate(126.6 638.3) scale(1.155 1)" font-size="19.50" text-anchor="start">y = 0.0057x + 0.0048</text>
<text transform="translate(170.8 663.0) scale(1.155 1)" font-size="19.50" text-anchor="start">R² = 0.9956</text>
<text transform="translate(630.7 1016.0) scale(1.130 1)" font-size="23.80" text-anchor="middle">(b)</text>
<path d="M121.0 1020.5 L128.2 1034.6 H113.8 Z" fill="#ff0000" stroke="#ff0000" stroke-width="3" stroke-linejoin="round"/>
<path d="M183.0 994.0 L190.2 1008.1 H175.8 Z" fill="#ff0000" stroke="#ff0000" stroke-width="3" stroke-linejoin="round"/>
<path d="M244.0 929.5 L251.2 943.6 H236.8 Z" fill="#ff0000" stroke="#ff0000" stroke-width="3" stroke-linejoin="round"/>
<path d="M303.0 906.5 L310.2 920.6 H295.8 Z" fill="#ff0000" stroke="#ff0000" stroke-width="3" stroke-linejoin="round"/>
<path d="M363.2 833.1 L370.4 847.2 H356.0 Z" fill="#ff0000" stroke="#ff0000" stroke-width="3" stroke-linejoin="round"/>
<path d="M421.0 802.0 L428.2 816.1 H413.8 Z" fill="#ff0000" stroke="#ff0000" stroke-width="3" stroke-linejoin="round"/>
<path d="M479.0 747.5 L486.2 761.6 H471.8 Z" fill="#ff0000" stroke="#ff0000" stroke-width="3" stroke-linejoin="round"/>
<path d="M536.0 705.5 L543.2 719.6 H528.8 Z" fill="#ff0000" stroke="#ff0000" stroke-width="3" stroke-linejoin="round"/>
<path d="M593.0 659.5 L600.2 673.6 H585.8 Z" fill="#ff0000" stroke="#ff0000" stroke-width="3" stroke-linejoin="round"/>
<path d="M648.0 617.5 L655.2 631.6 H640.8 Z" fill="#ff0000" stroke="#ff0000" stroke-width="3" stroke-linejoin="round"/>
<path d="M128.36 1031.75 L645.76 626.35" stroke="#000" stroke-width="4.4" stroke-linecap="round" stroke-dasharray="0 9.466" fill="none"/>
</g>
</svg></body></html>
